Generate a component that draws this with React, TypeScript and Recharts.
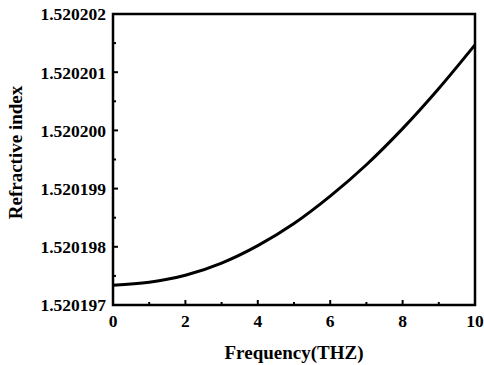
import { LineChart, Line, XAxis, YAxis, ReferenceArea, Label } from 'recharts';

const frequency = [0, 1, 2, 3, 4, 5, 6, 7, 8, 9, 10];
const refractiveIndex = [
  1.52019734, 1.52019739, 1.52019751, 1.52019772, 1.52019802, 1.5201984,
  1.52019887, 1.52019941, 1.52020003, 1.52020072, 1.52020147,
];

const xTicks = [0, 1, 2, 3, 4, 5, 6, 7, 8, 9, 10];
const yTicks = [
  1.520197, 1.5201975, 1.520198, 1.5201985, 1.520199, 1.5201995,
  1.5202, 1.5202005, 1.520201, 1.5202015, 1.520202,
];

const data = frequency.map((f, i) => ({ f, n: refractiveIndex[i] }));

const FONT = '"Liberation Serif", "Times New Roman", serif';

// ticks point into the plot; every other one is a labelled major tick
const XTick = ({ x, y, payload, index }: any) => {
  const major = index % 2 === 0;
  return (
    <g>
      <line x1={x} x2={x} y1={y} y2={y - (major ? 5 : 3)} stroke="#000" strokeWidth={2} />
      {major && (
        <text x={x} y={y + 22} textAnchor="middle" fontFamily={FONT} fontWeight="bold" fontSize={17.5} fill="#000">
          {payload.value}
        </text>
      )}
    </g>
  );
};

const YTick = ({ x, y, payload, index }: any) => {
  const major = index % 2 === 0;
  return (
    <g>
      <line x1={x} x2={x + (major ? 5 : 3)} y1={y} y2={y} stroke="#000" strokeWidth={2} />
      {major && (
        <text x={x - 7} y={y} dy="0.36em" textAnchor="end" fontFamily={FONT} fontWeight="bold" fontSize={17.5} fill="#000">
          {payload.value.toFixed(6)}
        </text>
      )}
    </g>
  );
};

export default function App() {
  return (
    <div style={{ position: 'absolute', left: 0, top: 0, background: '#fff' }}>
      <LineChart width={484} height={365} data={data} margin={{ top: 14, right: 9, bottom: 0, left: 0 }}>
        <XAxis
          dataKey="f"
          type="number"
          domain={[0, 10]}
          ticks={xTicks}
          interval={0}
          axisLine={false}
          tickLine={false}
          tickSize={0}
          tickMargin={0}
          height={60}
          tick={<XTick />}
        >
          <Label
            content={({ viewBox }: any) => (
              <text
                x={viewBox.x + viewBox.width / 2}
                y={viewBox.y + 54}
                textAnchor="middle"
                fontFamily={FONT}
                fontWeight="bold"
                fontSize={19}
                fill="#000"
              >
                Frequency(THZ)
              </text>
            )}
          />
        </XAxis>
        <YAxis
          type="number"
          domain={[1.520197, 1.520202]}
          ticks={yTicks}
          interval={0}
          axisLine={false}
          tickLine={false}
          tickSize={0}
          tickMargin={0}
          width={113}
          tick={<YTick />}
        >
          <Label
            content={({ viewBox }: any) => {
              const cx = 15;
              const cy = viewBox.y + viewBox.height / 2 - 7;
              return (
                <text
                  x={cx}
                  y={cy}
                  dy="0.35em"
                  transform={`rotate(-90 ${cx} ${cy})`}
                  textAnchor="middle"
                  fontFamily={FONT}
                  fontWeight="bold"
                  fontSize={19}
                  fill="#000"
                >
                  Refractive index
                </text>
              );
            }}
          />
        </YAxis>
        <ReferenceArea x1={0} x2={10} y1={1.520197} y2={1.520202} fill="none" stroke="#000" strokeWidth={2.5} />
        <Line
          dataKey="n"
          type="monotone"
          stroke="#000"
          strokeWidth={3}
          dot={false}
          isAnimationActive={false}
        />
      </LineChart>
    </div>
  );
}
